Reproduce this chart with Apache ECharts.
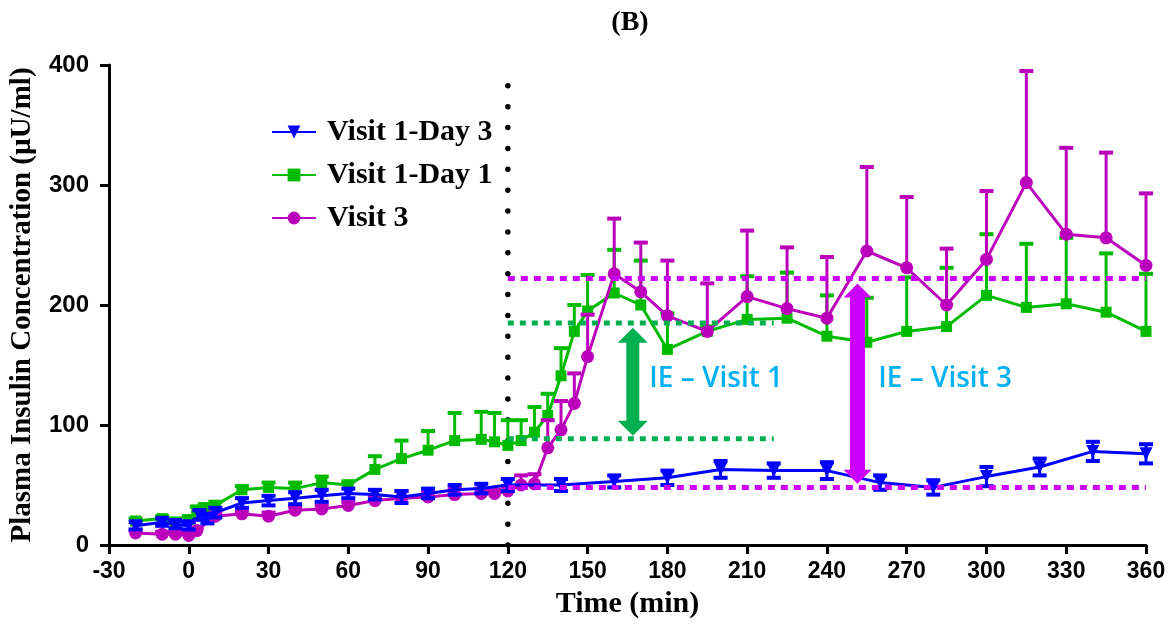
<!DOCTYPE html>
<html><head><meta charset="utf-8">
<script src="https://cdn.jsdelivr.net/npm/echarts@6/dist/echarts.min.js"></script>
<style>html,body{margin:0;padding:0;background:#fff}#c{width:1172px;height:624px}</style>
</head><body><div id="c"></div>
<script>
// ---- data ----
const xTickMin = -30, xTickMax = 360, xTickStep = 30;
const yTickMin = 0, yTickMax = 400, yTickStep = 100;

const timeVisit1Day3 = [-20,-10,-5,0,4,7,10,20,30,40,50,60,70,80,90,100,110,120,140,160,180,200,220,240,260,280,300,320,340,360];
const insulinVisit1Day3 = [16,19,17,16,25,22,27,35,37,39,41,43,42,40,43,46,47,50,50,53,56,63,62,62,52,48,57,65,78,76];
const semVisit1Day3 = [3,3,3,3,4,4,4,4,4,5,5,4,4,5,4,4,4,5,5,5,6,7,6,7,6,6,8,7,8,8];

const timeVisit1Day1 = [-20,-10,-5,0,3,6,10,20,30,40,50,60,70,80,90,100,110,115,120,125,130,135,140,145,150,160,170,180,195,210,225,240,255,270,285,300,315,330,345,360];
const insulinVisit1Day1 = [20,22,19,21,29,31,33,46,48,47,52,50,63,72,79,87,88,86,83,87,94,108,141,178,195,210,200,163,178,188,189,174,169,178,182,208,198,201,194,178];
const semVisit1Day1 = [2,2,3,3,3,3,3,3,4,5,5,3,11,15,16,23,23,24,21,17,21,18,23,22,30,36,37,30,4,36,38,34,37,45,49,51,53,55,49,48];

const timeVisit3 = [-20,-10,-5,0,3,10,20,30,40,50,60,70,80,90,100,110,115,120,125,130,135,140,145,150,160,170,180,195,210,225,240,255,270,285,300,315,330,345,360];
const insulinVisit3 = [10,9,9,8,12,24,26,24,29,30,33,37,39,40,42,43,43,45,50,51,81,96,118,157,226,211,191,178,207,197,189,245,231,200,238,302,259,256,233];
const semVisit3 = [2,2,2,2,2,3,2,3,3,3,3,4,6,4,5,4,3,4,8,8,23,24,25,35,46,41,46,40,55,51,51,70,59,47,57,93,72,71,60];

const seriesNames = ['Visit 1-Day 3','Visit 1-Day 1','Visit 3'];

const clampStartTime = 120;

const refLevel = [222, 48, 185, 88.5];
const refStart = [120, 120, 120, 120];
const refEnd = [360, 360, 220, 220];

const arrowTime = [167, 251.5];
const arrowFrom = [91, 51];
const arrowTo = [181, 218];

const labelText = ['IE \u2013 Visit 1', 'IE \u2013 Visit 3'];
const labelTime = [173.2, 259.3];
const labelLevel = [138.5, 138.5];

// ---- styles ----
const BLUE = '#0000FF', GREEN = '#00BB00', MAG = '#BB00BB';
const REF_MAG = '#CC00FF', REF_GREEN = '#00B050', TXT = '#00B0F0';
const refColors = [REF_MAG, REF_MAG, REF_GREEN, REF_GREEN];
const refDash = [[7,6],[7,6],[6,6],[6,6]];
const arrowColors = [REF_GREEN, REF_MAG];
const arrowShaft = [6.5, 7.5], arrowHead = [15, 14], arrowHeadLen = [15, 14];

function errSeries(times, vals, up, down, color, z) {
  return {
    type: 'custom', silent: true, z: z, clip: false,
    data: times.map((t, i) => [t, vals[i], up[i], down ? down[i] : 0]),
    encode: { x: 0, y: 1 },
    renderItem: function (p, api) {
      const x = api.value(0), y = api.value(1), eu = api.value(2), ed = api.value(3);
      const c = api.coord([x, y]);
      const ch = [];
      if (eu > 0) {
        const t = api.coord([x, y + eu]);
        ch.push({ type: 'line', shape: { x1: c[0], y1: c[1], x2: t[0], y2: t[1] }, style: { stroke: color, lineWidth: 3 } });
        ch.push({ type: 'line', shape: { x1: c[0] - 7, y1: t[1], x2: c[0] + 7, y2: t[1] }, style: { stroke: color, lineWidth: 4 } });
      }
      if (ed > 0) {
        const b = api.coord([x, y - ed]);
        ch.push({ type: 'line', shape: { x1: c[0], y1: c[1], x2: b[0], y2: b[1] }, style: { stroke: color, lineWidth: 3 } });
        ch.push({ type: 'line', shape: { x1: c[0] - 7, y1: b[1], x2: c[0] + 7, y2: b[1] }, style: { stroke: color, lineWidth: 4 } });
      }
      return { type: 'group', children: ch };
    }
  };
}

function lineSeries(name, times, vals, color, symbol, size, rotate, z) {
  return {
    type: 'line', name: name, z: z,
    data: times.map((t, i) => [t, vals[i]]),
    symbol: symbol, symbolSize: size, symbolRotate: rotate,
    showAllSymbol: true, animation: false,
    lineStyle: { color: color, width: 3 },
    itemStyle: { color: color, borderWidth: 0 },
    emphasis: { disabled: true }
  };
}

const series = [];
series.push({
  type: 'line', silent: true, z: 2, symbol: 'none',
  data: [[clampStartTime, yTickMin], [clampStartTime, yTickMax]],
  lineStyle: { color: '#000', width: 5.5, type: [0, 480 / 23], cap: 'round' }
});
series.push(errSeries(timeVisit1Day1, insulinVisit1Day1, semVisit1Day1, null, GREEN, 3));
series.push(lineSeries(seriesNames[1], timeVisit1Day1, insulinVisit1Day1, GREEN, 'rect', 11, 0, 3));
series.push(errSeries(timeVisit3, insulinVisit3, semVisit3, null, MAG, 4));
series.push(lineSeries(seriesNames[2], timeVisit3, insulinVisit3, MAG, 'circle', 13, 0, 4));
series.push(errSeries(timeVisit1Day3, insulinVisit1Day3, semVisit1Day3, semVisit1Day3, BLUE, 5));
series.push(lineSeries(seriesNames[0], timeVisit1Day3, insulinVisit1Day3, BLUE, 'triangle', 13, 180, 5));

refLevel.forEach((lv, i) => {
  series.push({
    type: 'line', silent: true, z: 6, symbol: 'none',
    data: [[refStart[i], lv], [refEnd[i], lv]],
    lineStyle: { color: refColors[i], width: 5, type: refDash[i] }
  });
});

series.push({
  type: 'custom', silent: true, z: 7, clip: false,
  data: arrowTime.map((t, i) => [t, arrowFrom[i], arrowTo[i], i]),
  encode: { x: 0, y: 1 },
  renderItem: function (p, api) {
    const i = api.value(3);
    const b = api.coord([api.value(0), api.value(1)]);
    const t = api.coord([api.value(0), api.value(2)]);
    const x = b[0], yb = b[1], yt = t[1];
    const sw = arrowShaft[i], hw = arrowHead[i], hl = arrowHeadLen[i];
    return {
      type: 'polygon',
      shape: { points: [[x, yt], [x + hw, yt + hl], [x + sw, yt + hl], [x + sw, yb - hl], [x + hw, yb - hl], [x, yb], [x - hw, yb - hl], [x - sw, yb - hl], [x - sw, yt + hl], [x - hw, yt + hl]] },
      style: { fill: arrowColors[i] }
    };
  }
});

series.push({
  type: 'custom', silent: true, z: 7, clip: false,
  data: labelTime.map((t, i) => [t, labelLevel[i], i]),
  encode: { x: 0, y: 1 },
  renderItem: function (p, api) {
    const i = api.value(2);
    const c = api.coord([api.value(0), api.value(1)]);
    return {
      type: 'text', x: c[0], y: c[1],
      style: { text: labelText[i], fill: TXT, fontFamily: 'Open Sans', fontWeight: 600, fontSize: 28, align: 'left', verticalAlign: 'middle' }
    };
  }
});

const chart = echarts.init(document.getElementById('c'), null, { renderer: 'canvas' });
chart.setOption({
  animation: false,
  backgroundColor: '#fff',
  title: {
    text: '(B)', left: 625, top: 4, textAlign: 'center',
    textStyle: { fontFamily: 'Liberation Serif', fontWeight: 'bold', fontSize: 28, color: '#000' }
  },
  legend: {
    data: seriesNames, orient: 'vertical', left: 266, top: 112,
    itemWidth: 44, itemHeight: 16, itemGap: 13, selectedMode: false,
    textStyle: { fontFamily: 'Liberation Serif', fontWeight: 'bold', fontSize: 30, color: '#000', lineHeight: 30, padding: [0, 0, 0, 6] }
  },
  grid: { left: 103, right: 26, top: 65, bottom: 79, containLabel: false },
  xAxis: {
    type: 'value', min: xTickMin, max: xTickMax, interval: xTickStep,
    name: 'Time (min)', nameLocation: 'middle', nameGap: 44,
    nameTextStyle: { fontFamily: 'Liberation Serif', fontWeight: 'bold', fontSize: 30, color: '#000' },
    splitLine: { show: false },
    axisLine: { onZero: false, lineStyle: { color: '#000', width: 3 } },
    axisTick: { length: 9, lineStyle: { color: '#000', width: 3 } },
    axisLabel: { fontFamily: 'Liberation Sans', fontWeight: 'bold', fontSize: 23, color: '#000', margin: 15, showMinLabel: true, showMaxLabel: true }
  },
  yAxis: {
    type: 'value', min: yTickMin, max: yTickMax, interval: yTickStep,
    name: 'Plasma Insulin Concentration (\u00b5U/ml)', nameLocation: 'middle', nameGap: 72,
    nameTextStyle: { fontFamily: 'Liberation Serif', fontWeight: 'bold', fontSize: 29, color: '#000' },
    splitLine: { show: false },
    axisLine: { show: true, onZero: false, lineStyle: { color: '#000', width: 3 } },
    axisTick: { show: true, length: 9, lineStyle: { color: '#000', width: 3 } },
    axisLabel: { fontFamily: 'Liberation Sans', fontWeight: 'bold', fontSize: 24, color: '#000', margin: 20 }
  },
  series: series
});
</script>
</body></html>
